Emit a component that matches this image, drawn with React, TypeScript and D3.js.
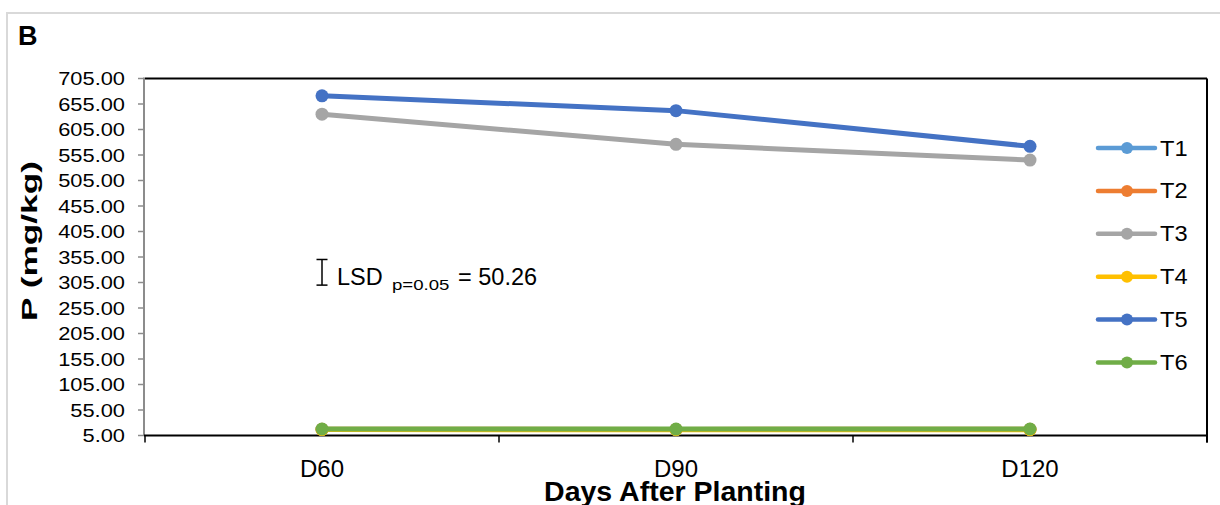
import React from "react";
import * as d3 from "d3";

// Sampling days and phosphorus content (mg/kg) per treatment
const days = ["D60", "D90", "D120"];
const seriesNames = ["T1", "T2", "T3", "T4", "T5", "T6"];
const t1 = [16.9, 16.7, 16.8];
const t2 = [17.2, 17.0, 17.1];
const t3 = [635, 576, 545];
const t4 = [16.6, 16.4, 16.5];
const t5 = [671, 642, 572];
const t6 = [17.8, 17.6, 17.7];
const seriesValues = [t1, t2, t3, t4, t5, t6];
const seriesColors = ["#5B9BD5", "#ED7D31", "#A5A5A5", "#FFC000", "#4472C4", "#70AD47"];
const yTicks = [5, 55, 105, 155, 205, 255, 305, 355, 405, 455, 505, 555, 605, 655, 705];
const lsdValue = 50.26;
const lsdCenter = 325;

const W = 1220;
const H = 505;
const plot = { left: 145, right: 1207, top: 78.5, bottom: 435.5 };
const FONT = "'Liberation Sans', Arial, sans-serif";

export default function App() {
  const x = d3.scaleBand<string>().domain(days).range([plot.left, plot.right]);
  const cx = (d: string) => (x(d) as number) + x.bandwidth() / 2;
  const y = d3.scaleLinear().domain([5, 705]).range([plot.bottom, plot.top]);
  const line = d3
    .line<number>()
    .x((_, i) => cx(days[i]))
    .y((v) => y(v));

  const boundaries = [plot.left, ...days.map((d) => (x(d) as number) + x.bandwidth())];
  const legendX = 1098;
  const legendY0 = 148;
  const legendStep = 42.9;

  const lsdX = cx("D60");
  const lsdTop = y(lsdCenter + lsdValue / 2);
  const lsdBot = y(lsdCenter - lsdValue / 2);

  return (
    <svg
      width={W}
      height={H}
      style={{ position: "absolute", left: 0, top: 0, background: "#fff" }}
      fontFamily={FONT}
    >
      {/* outer panel border */}
      <rect x={7} y={13} width={1400} height={700} fill="none" stroke="#d9d9d9" strokeWidth={2} />
      <text x={18} y={45} fontSize={27} fontWeight="bold" fill="#000">B</text>

      {/* plot frame */}
      <line x1={plot.left} x2={plot.right} y1={plot.top} y2={plot.top} stroke="#000" strokeWidth={2} />
      <line x1={plot.right} x2={plot.right} y1={plot.top} y2={plot.bottom + 7} stroke="#000" strokeWidth={2} />

      {/* y axis */}
      <line x1={plot.left - 1} x2={plot.left - 1} y1={plot.top - 1} y2={plot.bottom} stroke="#8c8c8c" strokeWidth={2} />
      {yTicks.map((t) => (
        <g key={t}>
          <line x1={plot.left - 7} x2={plot.left - 1} y1={y(t)} y2={y(t)} stroke="#8c8c8c" strokeWidth={1.5} />
          <text
            transform={`translate(125,${y(t) + 6.8}) scale(1.15,1)`}
            textAnchor="end"
            fontSize={19}
            fill="#000"
          >
            {t.toFixed(2)}
          </text>
        </g>
      ))}
      <text
        transform="translate(37,241) rotate(-90)"
        textAnchor="middle"
        fontSize={21.5}
        fontWeight="bold"
        textLength={160}
        lengthAdjust="spacingAndGlyphs"
        fill="#000"
      >
        P (mg/kg)
      </text>

      {/* x axis */}
      <line x1={plot.left - 1} x2={plot.right} y1={plot.bottom} y2={plot.bottom} stroke="#000" strokeWidth={2} />
      {boundaries.map((b, i) => (
        <line key={i} x1={b} x2={b} y1={plot.bottom} y2={plot.bottom + 7} stroke="#000" strokeWidth={1.5} />
      ))}
      {days.map((d) => (
        <text key={d} x={cx(d)} y={477} textAnchor="middle" fontSize={24} fill="#000">
          {d}
        </text>
      ))}
      <text x={675} y={501} textAnchor="middle" fontSize={28.5} fontWeight="bold" fill="#000">
        Days After Planting
      </text>

      {/* series */}
      {seriesValues.map((vals, si) => (
        <g key={seriesNames[si]}>
          <path d={line(vals) || ""} fill="none" stroke={seriesColors[si]} strokeWidth={5} strokeLinejoin="round" />
          {vals.map((v, i) => (
            <circle key={i} cx={cx(days[i])} cy={y(v)} r={6.5} fill={seriesColors[si]} />
          ))}
        </g>
      ))}

      {/* LSD bar and label */}
      <g stroke="#000" strokeWidth={1.5}>
        <line x1={lsdX} x2={lsdX} y1={lsdTop} y2={lsdBot} />
        <line x1={lsdX - 5.5} x2={lsdX + 5.5} y1={lsdTop} y2={lsdTop} />
        <line x1={lsdX - 5.5} x2={lsdX + 5.5} y1={lsdBot} y2={lsdBot} />
      </g>
      <text x={337} y={285} fontSize={23.5} fill="#000">LSD</text>
      <text transform="translate(392,290) scale(1.2,1)" fontSize={15.5} fill="#000">p=0.05</text>
      <text x={458} y={285} fontSize={23.5} fill="#000">= 50.26</text>

      {/* legend */}
      {seriesNames.map((n, i) => {
        const ly = legendY0 + i * legendStep;
        return (
          <g key={n}>
            <line x1={legendX} x2={legendX + 57} y1={ly} y2={ly} stroke={seriesColors[i]} strokeWidth={4.5} strokeLinecap="round" />
            <circle cx={legendX + 29} cy={ly} r={6} fill={seriesColors[i]} />
            <text transform={`translate(1160,${ly + 7.5}) scale(1.1,1)`} fontSize={21.5} fill="#000">
              {n}
            </text>
          </g>
        );
      })}
    </svg>
  );
}
